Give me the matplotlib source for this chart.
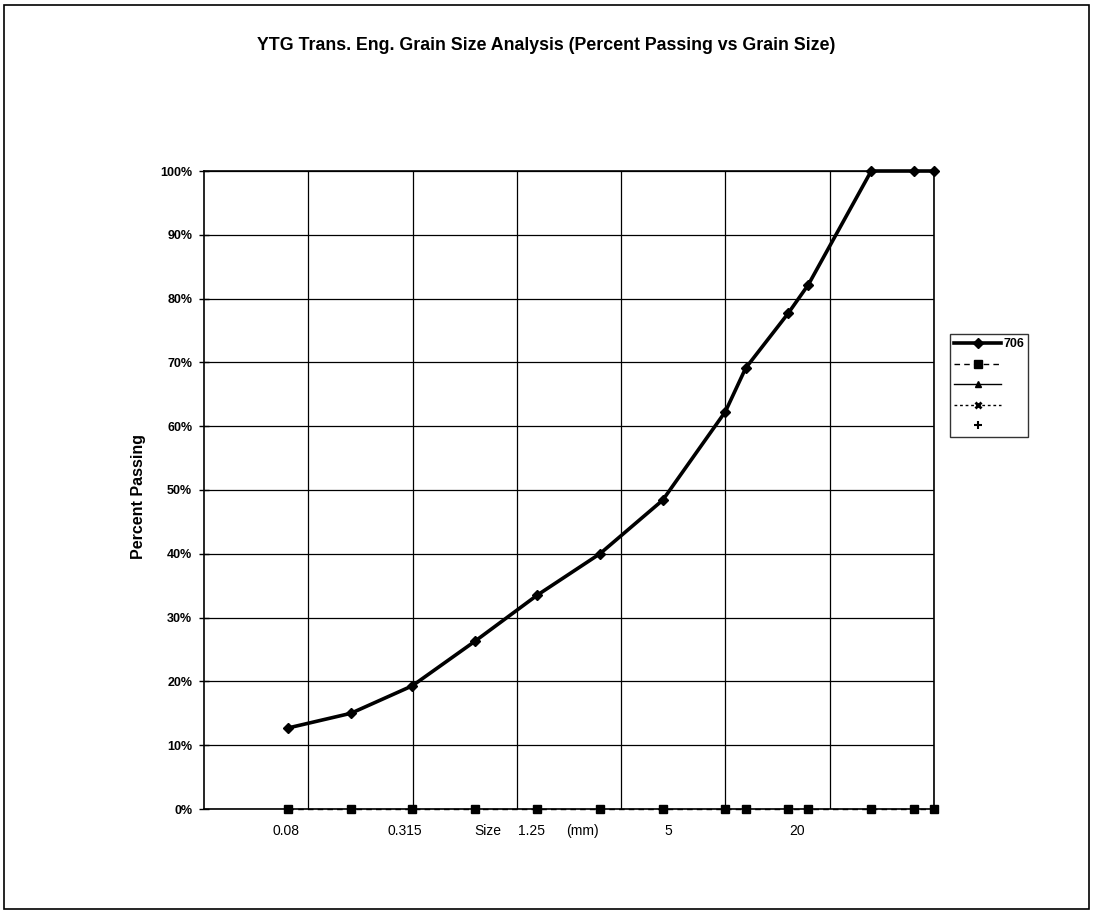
import matplotlib
matplotlib.use('Agg')
import matplotlib.pyplot as plt
from matplotlib.patches import Rectangle
import numpy as np

plt.rcParams['font.family'] = ['Liberation Sans', 'DejaVu Sans']

# sieve sizes (mm) and percent passing
size_mm = [0.08, 0.16, 0.315, 0.63, 1.25, 2.5, 5, 10, 12.5, 20, 25, 50, 80, 100]
pass_706 = [12.7, 15.0, 19.3, 26.3, 33.5, 40.0, 48.4, 62.3, 69.1, 77.7, 82.2, 100, 100, 100]
pass_2 = [0, 0, 0, 0, 0, 0, 0, 0, 0, 0, 0, 0, 0, 0]
legend_labels = ['706', '', '', '', '']
yticks = [0, 10, 20, 30, 40, 50, 60, 70, 80, 90, 100]
xgrid = [10**-1, 10**-0.5, 10**0, 10**0.5, 10**1, 10**1.5, 10**2]
# hand placed labels under the x axis
xlab_text = ['0.08', '0.315', 'Size', '1.25', '(mm)', '5', '20']
xlab_pos = [0.112, 0.275, 0.389, 0.448, 0.518, 0.636, 0.813]

fig = plt.figure(figsize=(10.93, 9.11), dpi=100)
ax = fig.add_axes([204/1093, 1-809/911, 730/1093, 638/911])

l2, = ax.plot(size_mm, pass_2, color='k', lw=1, ls=(0, (4, 3)), marker='s', ms=6, clip_on=False, zorder=3)
l1, = ax.plot(size_mm, pass_706, color='k', lw=2.6, marker='D', ms=5, clip_on=False, zorder=4)
l3, = ax.plot([], [], color='k', lw=1, marker='^', ms=5)
l4, = ax.plot([], [], color='k', lw=1, ls=(0, (2, 2)), marker='x', ms=5, mew=2)
l5, = ax.plot([], [], color='k', lw=0, marker='+', ms=6, mew=1.5)

ax.set_xscale('log')
ax.set_xlim(10**-1.5, 100)
ax.set_ylim(0, 100)
ax.set_xticks(xgrid)
ax.xaxis.set_minor_locator(matplotlib.ticker.NullLocator())
ax.set_xticklabels([])
ax.tick_params(axis='x', length=0)
ax.set_yticks(yticks)
ax.set_yticklabels(['%d%%' % v for v in yticks], fontsize=9, fontweight='bold')
ax.tick_params(axis='y', direction='inout', length=7, width=1, pad=5)
ax.grid(True, color='k', lw=0.9)
ax.set_axisbelow(True)
for s in ax.spines.values():
    s.set_linewidth(1.2)
    s.set_color('k')

for t, p in zip(xlab_text, xlab_pos):
    ax.text(p, -0.0345, t, transform=ax.transAxes, ha='center', va='center', fontsize=10)

ax.set_ylabel('Percent Passing', fontsize=11.5, fontweight='bold')
ax.yaxis.set_label_coords(-0.0795, 0.49)

fig.text(0.4995, 1-46/911, 'YTG Trans. Eng. Grain Size Analysis (Percent Passing vs Grain Size)',
         ha='center', va='center', fontsize=12.8, fontweight='bold')

leg = fig.legend([l1, l2, l3, l4, l5], legend_labels, loc='upper left',
                 bbox_to_anchor=(950/1093, 1-334/911), fancybox=False, frameon=True,
                 handlelength=3.7, labelspacing=0.68, handletextpad=0.2,
                 borderpad=0.35, borderaxespad=0, prop={'size': 9, 'weight': 'bold'})
leg.get_frame().set_edgecolor('k')
leg.get_frame().set_linewidth(1)

fig.patches.append(Rectangle((4/1093, 2/911), 1085/1093, 904/911, transform=fig.transFigure,
                             fill=False, edgecolor='k', lw=1.2))

fig.savefig('out.png', dpi=100)
